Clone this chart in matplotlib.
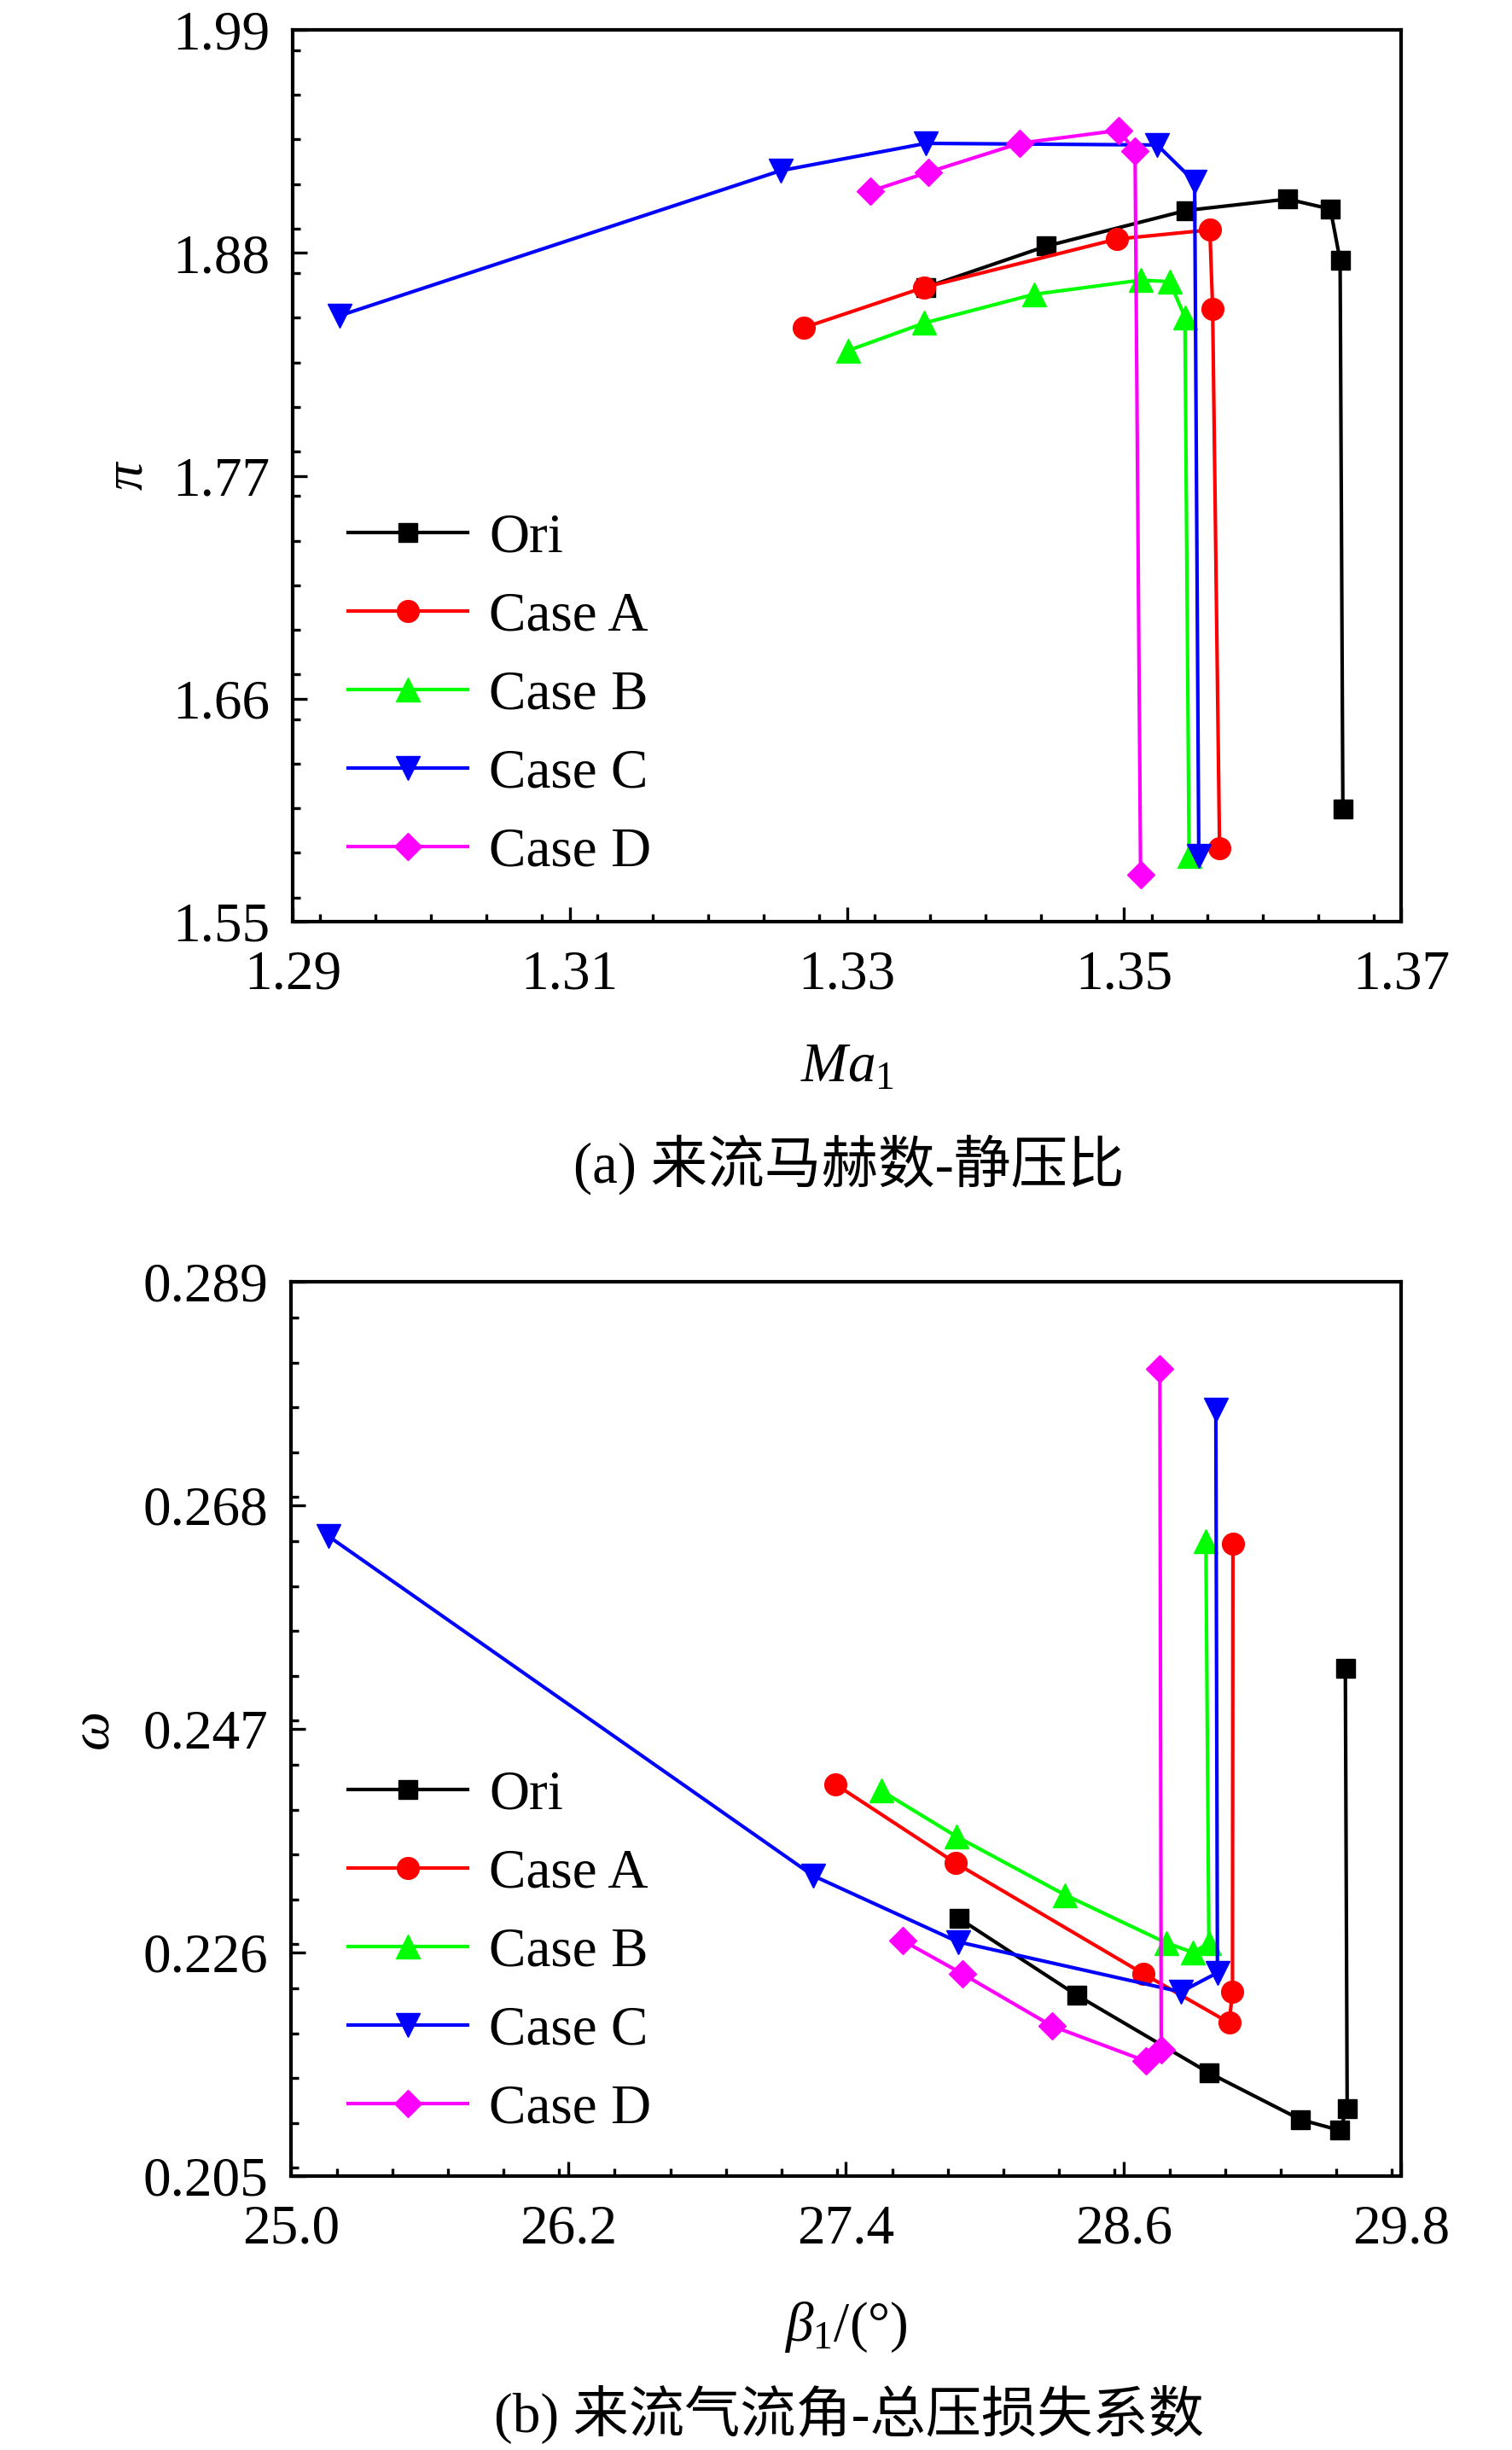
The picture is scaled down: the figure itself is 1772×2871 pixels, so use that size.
import matplotlib
matplotlib.use('Agg')
import matplotlib.pyplot as plt
from matplotlib.ticker import MultipleLocator

plt.rcParams['font.family'] = ['Liberation Serif', 'Noto Sans CJK SC']
plt.rcParams['mathtext.fontset'] = 'custom'
plt.rcParams['mathtext.rm'] = 'Liberation Serif'
plt.rcParams['mathtext.it'] = 'Liberation Serif:italic'
plt.rcParams['mathtext.bf'] = 'Liberation Serif:bold'

# ---------------- data ----------------
series_names = ['Ori', 'Case A', 'Case B', 'Case C', 'Case D']

# (a) inlet Mach number vs static pressure ratio
ori_ma = [1.3357, 1.3444, 1.3545, 1.3618, 1.3649, 1.3656, 1.3658]
ori_pi = [1.8630, 1.8833, 1.9009, 1.9065, 1.9016, 1.8763, 1.6056]
caseA_ma = [1.3269, 1.3356, 1.3495, 1.3562, 1.3564, 1.3569]
caseA_pi = [1.8431, 1.8630, 1.8868, 1.8913, 1.8524, 1.5862]
caseB_ma = [1.3301, 1.3356, 1.3435, 1.3512, 1.3533, 1.3544, 1.3547]
caseB_pi = [1.8318, 1.8454, 1.8595, 1.8665, 1.8658, 1.8482, 1.5824]
caseC_ma = [1.2934, 1.3252, 1.3357, 1.3524, 1.3551, 1.3554]
caseC_pi = [1.8490, 1.9205, 1.9340, 1.9332, 1.9151, 1.5824]
caseD_ma = [1.3317, 1.3359, 1.3425, 1.3496, 1.3508, 1.3512]
caseD_pi = [1.9104, 1.9198, 1.9341, 1.9404, 1.9303, 1.5732]

# (b) inlet flow angle vs total pressure loss coefficient
ori_beta = [27.889, 28.397, 28.969, 29.366, 29.534, 29.567, 29.559]
ori_omega = [0.2292, 0.2220, 0.2147, 0.2103, 0.2093, 0.2113, 0.2527]
caseA_beta = [27.354, 27.874, 28.686, 29.057, 29.071, 29.073]
caseA_omega = [0.2418, 0.2344, 0.2240, 0.2194, 0.2223, 0.2644]
caseB_beta = [27.552, 27.877, 28.348, 28.785, 28.901, 28.969, 28.956]
caseB_omega = [0.2412, 0.2369, 0.2314, 0.2269, 0.2260, 0.2269, 0.2646]
caseC_beta = [25.162, 27.259, 27.884, 28.848, 29.006, 28.999]
caseC_omega = [0.2651, 0.2332, 0.2270, 0.2223, 0.2241, 0.2770]
caseD_beta = [27.647, 27.903, 28.290, 28.696, 28.763, 28.757]
caseD_omega = [0.2271, 0.2240, 0.2191, 0.2158, 0.2169, 0.2808]

ma_ticks = [1.29, 1.31, 1.33, 1.35, 1.37]
ma_ticklabels = ['1.29', '1.31', '1.33', '1.35', '1.37']
pi_ticks = [1.55, 1.66, 1.77, 1.88, 1.99]
pi_ticklabels = ['1.55', '1.66', '1.77', '1.88', '1.99']
beta_ticks = [25.0, 26.2, 27.4, 28.6, 29.8]
beta_ticklabels = ['25.0', '26.2', '27.4', '28.6', '29.8']
omega_ticks = [0.205, 0.226, 0.247, 0.268, 0.289]
omega_ticklabels = ['0.205', '0.226', '0.247', '0.268', '0.289']

# ---------------- styles ----------------
colors = ['#000000', '#FF0000', '#00FF00', '#0000FF', '#FF00FF']
markers = ['s', 'o', '^', 'v', 'D']
msizes = [15.5, 18.5, 20.5, 20.5, 16]
FS = 47
LW = 3.0

W, H = 1772, 2871
fig = plt.figure(figsize=(W / 100, H / 100), dpi=100)
ax1 = fig.add_axes([343 / W, 1 - 1080 / H, 1299 / W, 1045 / H])
ax2 = fig.add_axes([341 / W, 1 - 2550 / H, 1301 / W, 1048 / H])

top_x = [ori_ma, caseA_ma, caseB_ma, caseC_ma, caseD_ma]
top_y = [ori_pi, caseA_pi, caseB_pi, caseC_pi, caseD_pi]
bot_x = [ori_beta, caseA_beta, caseB_beta, caseC_beta, caseD_beta]
bot_y = [ori_omega, caseA_omega, caseB_omega, caseC_omega, caseD_omega]

for ax, xs, ys in [(ax1, top_x, top_y), (ax2, bot_x, bot_y)]:
    for i in range(5):
        ax.plot(xs[i], ys[i], color=colors[i], marker=markers[i], ms=msizes[i],
                lw=LW, label=series_names[i], clip_on=False)
    for s in ax.spines.values():
        s.set_linewidth(3.0)
    ax.tick_params(which='both', direction='in', top=False, right=False,
                   labelsize=FS)
    ax.tick_params(axis='y', which='both', pad=19)
    ax.tick_params(axis='x', which='both', pad=24)
    ax.tick_params(which='major', length=12.5, width=2.4)
    ax.tick_params(which='minor', length=6.5, width=2.4)
    ax.legend(loc='center left', frameon=False, fontsize=FS, handlelength=2.15,
              handletextpad=0.38, labelspacing=0.495, borderpad=0, borderaxespad=0,
              bbox_transform=fig.transFigure,
              bbox_to_anchor=(408 / W, 1 - (815 if ax is ax1 else 2288) / H))

ax1.set_xlim(1.29, 1.37)
ax1.set_ylim(1.55, 1.99)
ax1.set_xticks(ma_ticks)
ax1.set_xticklabels(ma_ticklabels)
ax1.set_yticks(pi_ticks)
ax1.set_yticklabels(pi_ticklabels)
ax1.xaxis.set_minor_locator(MultipleLocator(0.004))
ax1.yaxis.set_minor_locator(MultipleLocator(0.022))

ax2.set_xlim(25.0, 29.8)
ax2.set_ylim(0.205, 0.289)
ax2.set_xticks(beta_ticks)
ax2.set_xticklabels(beta_ticklabels)
ax2.set_yticks(omega_ticks)
ax2.set_yticklabels(omega_ticklabels)
ax2.xaxis.set_minor_locator(MultipleLocator(0.24))
ax2.yaxis.set_minor_locator(MultipleLocator(0.0042))

ax1.set_ylabel('π', fontstyle='italic', fontsize=FS)
ax1.yaxis.set_label_coords(-0.125, 0.5)
ax2.set_ylabel('ω', fontstyle='italic', fontsize=FS)
ax2.yaxis.set_label_coords(-0.154, 0.5)

ax1.set_xlabel(r'$Ma_1$', fontsize=FS, va='center')
ax1.xaxis.set_label_coords(0.5, -0.1636)
ax2.set_xlabel(r'$\beta_1$/(°)', fontsize=FS, va='center')
ax2.xaxis.set_label_coords(0.5, -0.169)

fig.text(995 / W, 1 - 1365 / H, '(a) 来流马赫数-静压比', ha='center', va='center', fontsize=48)
fig.text(995 / W, 1 - 2830 / H, '(b) 来流气流角-总压损失系数', ha='center', va='center', fontsize=47)

fig.savefig('out.png', dpi=100)
